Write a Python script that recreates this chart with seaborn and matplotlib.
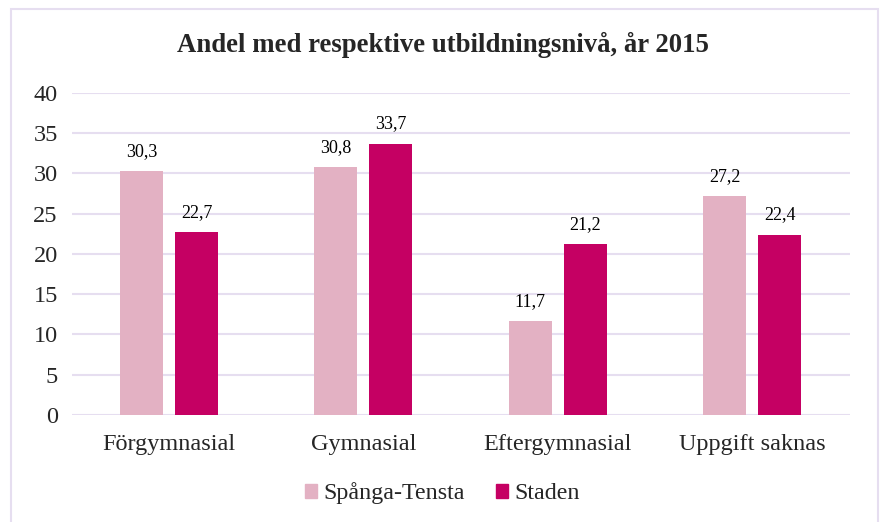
import matplotlib
matplotlib.use("Agg")
import matplotlib.pyplot as plt
import matplotlib.patches as mpatches
import seaborn as sns
import pandas as pd

# ── data ──────────────────────────────────────────────────────────────────────
categories = ["Förgymnasial", "Gymnasial", "Eftergymnasial", "Uppgift saknas"]
series_names = ["Spånga-Tensta", "Staden"]
spanga_tensta = [30.3, 30.8, 11.7, 27.2]
staden = [22.7, 33.7, 21.2, 22.4]
y_ticks = [0, 5, 10, 15, 20, 25, 30, 35, 40]

COLORS = {"Spånga-Tensta": "#E3B1C3", "Staden": "#C50063"}
GRID = "#E6DEF0"

df = pd.DataFrame({
    "kategori": categories * 2,
    "serie": [series_names[0]] * 4 + [series_names[1]] * 4,
    "andel": spanga_tensta + staden,
})

# ── style ─────────────────────────────────────────────────────────────────────
sns.set_theme(style="white")
plt.rcParams["font.family"] = ["Liberation Serif", "DejaVu Serif"]

fig = plt.figure(figsize=(8.85, 5.22), dpi=100)
ax = fig.add_axes([0.081, 0.205, 0.879, 0.617])

sns.barplot(data=df, x="kategori", y="andel", hue="serie",
            palette=COLORS, width=0.566, gap=0.22, saturation=1,
            linewidth=0, legend=False, ax=ax)

for container in ax.containers:
    ax.bar_label(container, labels=[f"{v:.1f}".replace(".", ",") for v in container.datavalues],
                 padding=8, fontsize=13, color="black")

ax.set_ylim(0, 40)
ax.set_yticks(y_ticks)
ax.set_xlim(-0.5, 3.5)
ax.yaxis.grid(True, color=GRID, linewidth=1.5)
ax.set_axisbelow(True)
for s in ax.spines.values():
    s.set_visible(False)
ax.tick_params(axis="y", labelsize=17.5, pad=10, length=0)
ax.tick_params(axis="x", labelsize=17.5, pad=14, length=0)
ax.set_xlabel("")
ax.set_ylabel("")

fig.text(0.5, 0.913, "Andel med respektive utbildningsnivå, år 2015",
         ha="center", va="center", fontsize=19.3, fontweight="bold")

handles = [mpatches.Patch(color=COLORS[n], label=n) for n in series_names]
fig.legend(handles=handles, loc="center", bbox_to_anchor=(0.5, 0.055), ncol=2,
           frameon=False, fontsize=17.3, handlelength=0.5, handleheight=0.5,
           handletextpad=0.25, columnspacing=1.3)

# outer chart border
fig.patches.append(mpatches.Rectangle((0.012, -0.01), 0.98, 0.993,
                                      transform=fig.transFigure, fill=False,
                                      edgecolor=GRID, linewidth=1.5))

plt.savefig("out.png", dpi=100)
